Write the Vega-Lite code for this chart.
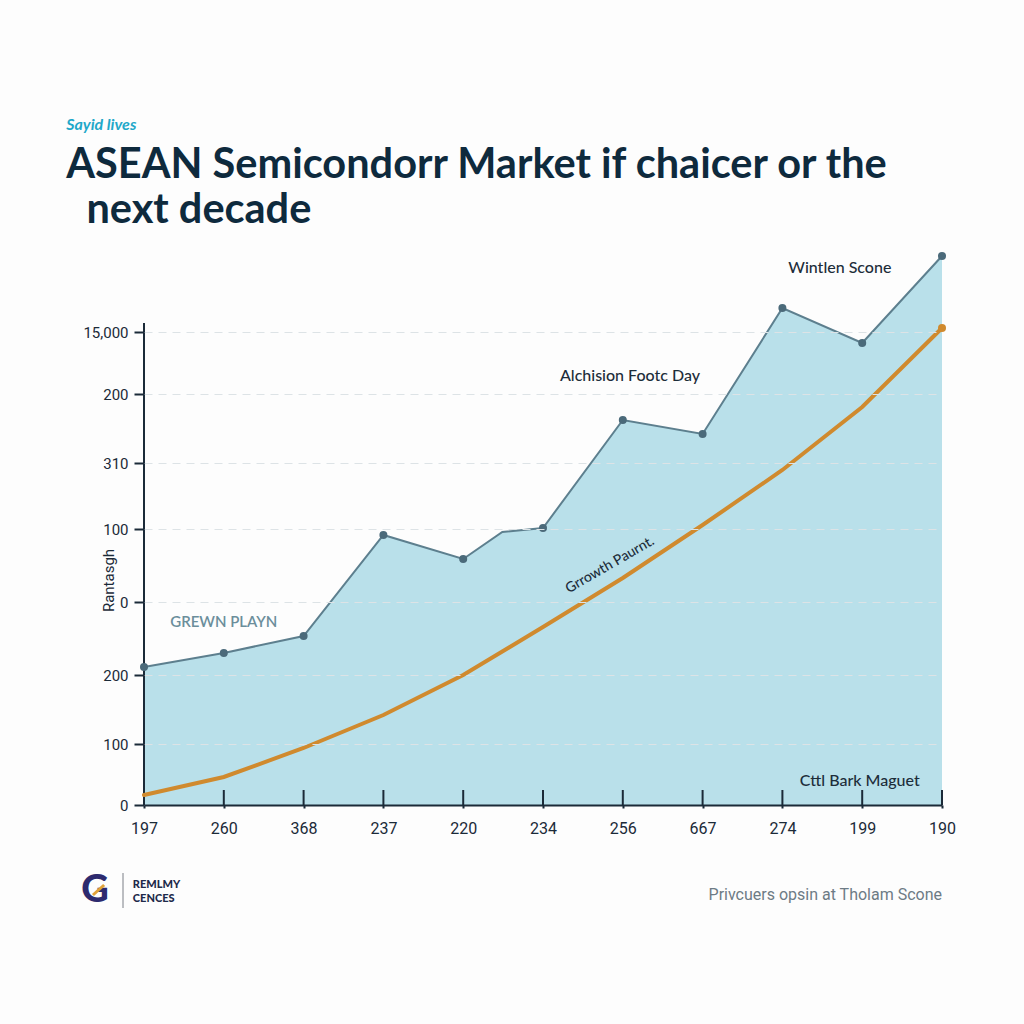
{
  "$schema": "https://vega.github.io/schema/vega-lite/v6.json",
  "width": 798,
  "height": 560,
  "autosize": "none",
  "padding": {"left": 144, "top": 245, "right": 82, "bottom": 219},
  "background": "#fdfdfd",
  "title": {
    "text": "Sayid lives",
    "subtitle": ["ASEAN Semicondorr Market if chaicer or the", "\u200b\u00a0\u00a0next decade"],
    "anchor": "start",
    "dx": -15,
    "offset": 14,
    "font": "Lato",
    "fontSize": 16,
    "fontStyle": "italic",
    "fontWeight": "bold",
    "color": "#1fa8c9",
    "subtitleFont": "Lato",
    "subtitleFontSize": 41.5,
    "subtitleFontWeight": "bold",
    "subtitleColor": "#0e2a3d",
    "subtitleLineHeight": 45,
    "subtitlePadding": 12
  },
  "config": {
    "view": {"stroke": null},
    "axis": {"labelFont": "Roboto", "titleFont": "Roboto"}
  },
  "datasets": {
    "top": [
      {"i": 0, "v": 138, "kind": "point"},
      {"i": 1, "v": 152, "kind": "point"},
      {"i": 2, "v": 169, "kind": "point"},
      {"i": 3, "v": 270, "kind": "point"},
      {"i": 4, "v": 246, "kind": "point"},
      {"i": 4.49, "v": 273, "kind": "bend"},
      {"i": 5, "v": 277, "kind": "point"},
      {"i": 6, "v": 385, "kind": "point"},
      {"i": 7, "v": 371, "kind": "point"},
      {"i": 8, "v": 497, "kind": "point"},
      {"i": 9, "v": 462, "kind": "point"},
      {"i": 10, "v": 549, "kind": "point"}
    ],
    "growth": [
      {"i": 0, "v": 10},
      {"i": 1, "v": 28},
      {"i": 2, "v": 57},
      {"i": 3, "v": 90},
      {"i": 4, "v": 130},
      {"i": 5, "v": 178},
      {"i": 6, "v": 227},
      {"i": 7, "v": 280},
      {"i": 8, "v": 335},
      {"i": 9, "v": 398},
      {"i": 10, "v": 477}
    ],
    "labels": [
      {"i": 8.72, "v": 537, "t": "Wintlen Scone"},
      {"i": 6.09, "v": 429, "t": "Alchision Footc Day"},
      {"i": 8.97, "v": 24, "t": "Cttl Bark Maguet"}
    ],
    "xticks": [
      {"i": 0}, {"i": 1}, {"i": 2}, {"i": 3}, {"i": 4}, {"i": 5},
      {"i": 6}, {"i": 7}, {"i": 8}, {"i": 9}, {"i": 10}
    ]
  },
  "layer": [
    {
      "data": {"name": "top"},
      "mark": {"type": "area", "color": "#b9e0ea", "opacity": 1},
      "encoding": {
        "x": {
          "field": "i", "type": "quantitative",
          "scale": {"domain": [0, 10], "nice": false, "zero": false},
          "axis": {
            "zindex": 1,
            "values": [0, 1, 2, 3, 4, 5, 6, 7, 8, 9, 10],
            "labelExpr": "['197','260','368','237','220','234','256','667','274','199','190'][datum.value]",
            "title": null,
            "grid": false,
            "domainColor": "#1b2a38",
            "domainWidth": 2,
            "tickColor": "#1b2a38",
            "tickWidth": 2,
            "tickSize": 3,
            "labelFontSize": 16,
            "labelColor": "#1b2a38",
            "labelPadding": 12,
            "labelFlush": false
          }
        },
        "y": {
          "field": "v", "type": "quantitative",
          "scale": {"domain": [0, 560], "nice": false},
          "axis": {
            "zindex": 1,
            "values": [0, 61, 130, 203, 276, 342, 411, 473],
            "labelExpr": "{'0':'0','61':'100','130':'200','203':'0','276':'100','342':'310','411':'200','473':'15,000'}[datum.value+'']",
            "title": "Rantasgh",
            "titleAngle": -90,
            "titleX": -28,
            "titleY": 335,
            "titleAlign": "center",
            "titleFontSize": 15,
            "titleFontWeight": "normal",
            "titleColor": "#1b2a38",
            "grid": true,
            "gridColor": "#dde3e6",
            "gridDash": [8, 6],
            "gridWidth": 1,
            "domain": false,
            "tickColor": "#1b2a38",
            "tickWidth": 2,
            "tickSize": 10,
            "labelFontSize": 15,
            "labelColor": "#1b2a38",
            "labelPadding": 6
          }
        }
      }
    },
    {
      "data": {"values": [{"i": 0, "v": 0, "v2": 482}]},
      "mark": {"type": "rule", "color": "#1b2a38", "strokeWidth": 2},
      "encoding": {
        "x": {"field": "i", "type": "quantitative"},
        "y": {"field": "v", "type": "quantitative"},
        "y2": {"field": "v2"}
      }
    },
    {
      "data": {"name": "xticks"},
      "mark": {"type": "rule", "color": "#1b2a38", "strokeWidth": 2},
      "encoding": {
        "x": {"field": "i", "type": "quantitative"},
        "y": {"datum": 0},
        "y2": {"datum": 15}
      }
    },
    {
      "data": {"name": "top"},
      "mark": {"type": "line", "color": "#5d7f8e", "strokeWidth": 2},
      "encoding": {
        "x": {"field": "i", "type": "quantitative"},
        "y": {"field": "v", "type": "quantitative"}
      }
    },
    {
      "data": {"name": "top"},
      "transform": [{"filter": "datum.kind == 'point'"}],
      "mark": {"type": "point", "filled": true, "color": "#4b6a7a", "size": 64, "opacity": 1},
      "encoding": {
        "x": {"field": "i", "type": "quantitative"},
        "y": {"field": "v", "type": "quantitative"}
      }
    },
    {
      "data": {"name": "growth"},
      "mark": {"type": "line", "color": "#d08a2e", "strokeWidth": 4, "strokeCap": "round"},
      "encoding": {
        "x": {"field": "i", "type": "quantitative"},
        "y": {"field": "v", "type": "quantitative"}
      }
    },
    {
      "data": {"name": "growth"},
      "transform": [{"filter": "datum.i == 10"}],
      "mark": {"type": "point", "filled": true, "color": "#d08a2e", "size": 64, "opacity": 1},
      "encoding": {
        "x": {"field": "i", "type": "quantitative"},
        "y": {"field": "v", "type": "quantitative"}
      }
    },
    {
      "data": {"name": "labels"},
      "mark": {"type": "text", "font": "Lato", "fontSize": 16, "fontWeight": 500, "color": "#1d2d3a"},
      "encoding": {
        "x": {"field": "i", "type": "quantitative"},
        "y": {"field": "v", "type": "quantitative"},
        "text": {"field": "t"}
      }
    },
    {
      "data": {"values": [{"i": 1.0, "v": 183, "t": "GREWN PLAYN"}]},
      "mark": {"type": "text", "font": "Lato", "fontSize": 15, "fontWeight": 600, "color": "#6b8e9b"},
      "encoding": {
        "x": {"field": "i", "type": "quantitative"},
        "y": {"field": "v", "type": "quantitative"},
        "text": {"field": "t"}
      }
    },
    {
      "data": {"values": [{"i": 5.84, "v": 240, "t": "Grrowth Paurnt."}]},
      "mark": {"type": "text", "font": "Lato", "fontSize": 14, "fontWeight": 500, "color": "#1d2d3a", "angle": -30},
      "encoding": {
        "x": {"field": "i", "type": "quantitative"},
        "y": {"field": "v", "type": "quantitative"},
        "text": {"field": "t"}
      }
    },
    {
      "data": {"values": [{"i": 10, "v": -90, "t": "Privcuers opsin at Tholam Scone"}]},
      "mark": {"type": "text", "font": "Roboto", "fontSize": 16, "color": "#6d7b85", "align": "right"},
      "encoding": {
        "x": {"field": "i", "type": "quantitative"},
        "y": {"field": "v", "type": "quantitative"},
        "text": {"field": "t"}
      }
    },
    {
      "data": {"values": [{"i": -0.614, "v": -86, "t": "G"}]},
      "mark": {"type": "text", "font": "Lato", "fontSize": 38, "fontWeight": 900, "color": "#2d2a6e"},
      "encoding": {
        "x": {"field": "i", "type": "quantitative"},
        "y": {"field": "v", "type": "quantitative"},
        "text": {"field": "t"}
      }
    },
    {
      "data": {"values": [{"i": -0.64, "v": -90, "i2": -0.5, "v2": -80}]},
      "mark": {"type": "rule", "color": "#e0a23a", "strokeWidth": 3},
      "encoding": {
        "x": {"field": "i", "type": "quantitative"},
        "y": {"field": "v", "type": "quantitative"},
        "x2": {"field": "i2"},
        "y2": {"field": "v2"}
      }
    },
    {
      "data": {"values": [{"i": -0.263, "v": -68, "v2": -103}]},
      "mark": {"type": "rule", "color": "#7a7f86", "strokeWidth": 1},
      "encoding": {
        "x": {"field": "i", "type": "quantitative"},
        "y": {"field": "v", "type": "quantitative"},
        "y2": {"field": "v2"}
      }
    },
    {
      "data": {"values": [{"i": -0.14, "v": -80, "t": "REMLMY"}, {"i": -0.14, "v": -94, "t": "CENCES"}]},
      "mark": {"type": "text", "font": "Lato", "fontSize": 11, "fontWeight": 900, "color": "#1e2a4a", "align": "left"},
      "encoding": {
        "x": {"field": "i", "type": "quantitative"},
        "y": {"field": "v", "type": "quantitative"},
        "text": {"field": "t"}
      }
    }
  ]
}
